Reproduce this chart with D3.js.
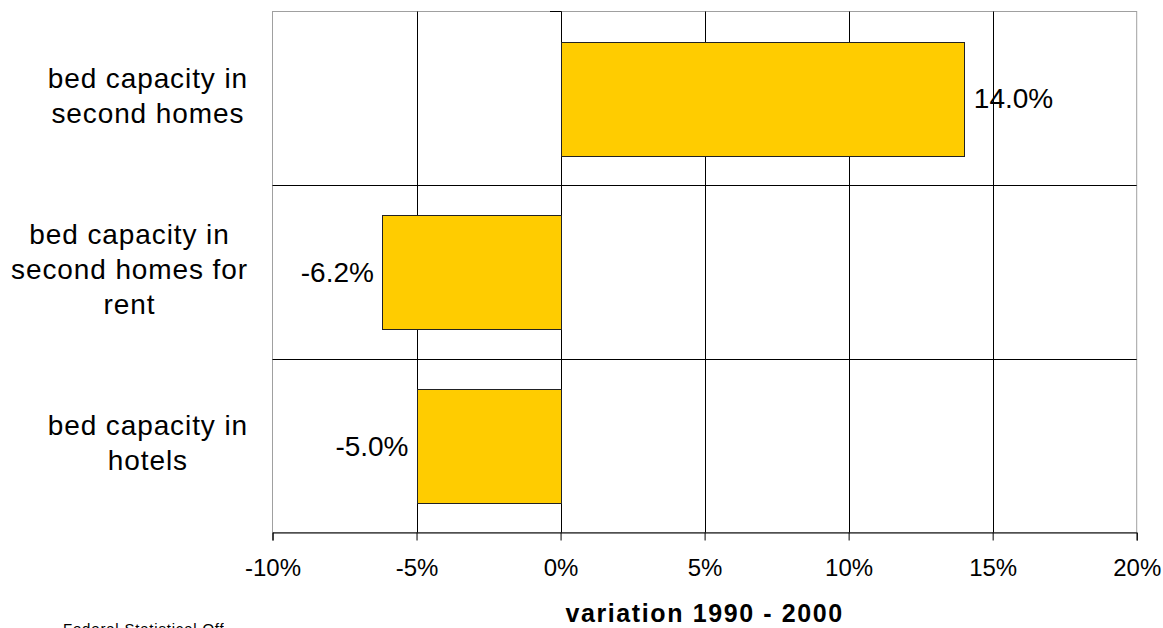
<!DOCTYPE html>
<html>
<head>
<meta charset="utf-8">
<script src="https://cdn.jsdelivr.net/npm/d3@7"></script>
<style>
  html, body { margin: 0; padding: 0; background: #fff; }
  svg { display: block; }
  text { font-family: "Liberation Sans", Arial, sans-serif; fill: #000; }
</style>
</head>
<body>
<svg id="chart" width="1163" height="628"></svg>
<script>
// ---- data ----
const categories = [
  ["bed capacity in", "second homes"],
  ["bed capacity in", "second homes for", "rent"],
  ["bed capacity in", "hotels"]
];
const values = [14.0, -6.2, -5.0];
const valueLabels = ["14.0%", "-6.2%", "-5.0%"];
const tickValues = [-10, -5, 0, 5, 10, 15, 20];
const tickLabels = ["-10%", "-5%", "0%", "5%", "10%", "15%", "20%"];
const axisTitle = "variation 1990 - 2000";
const sourceText = "Federal Statistical Office";

(function () {
// ---- layout ----
const svg = d3.select("#chart");
const pL = 272.5, pR = 1136.7, pT = 11.5, pB = 532.5;

const x = d3.scaleLinear().domain([-10, 20]).range([pL, pR]);
const idx = categories.map((d, i) => i);
const y = d3.scaleBand().domain(idx).range([pT, pB]).paddingInner(0.346).paddingOuter(0.173);
const step = y.step();
const rowTop = i => pT + i * step;
const rowCenter = i => pT + (i + 0.5) * step;

// plot border (gray)
svg.append("rect")
  .attr("x", pL).attr("y", pT)
  .attr("width", pR - pL).attr("height", pB - pT)
  .attr("fill", "none").attr("stroke", "#a0a0a0").attr("stroke-width", 1);

// vertical gridlines (black) at interior ticks
svg.append("g").selectAll("line")
  .data(tickValues.filter(v => v > -10 && v < 20))
  .join("line")
  .attr("x1", d => Math.round(x(d)) + 0.5).attr("x2", d => Math.round(x(d)) + 0.5)
  .attr("y1", pT).attr("y2", pB)
  .attr("stroke", "#000").attr("stroke-width", 1);

// horizontal separators between categories
svg.append("g").selectAll("line")
  .data(idx.slice(1))
  .join("line")
  .attr("x1", pL).attr("x2", pR)
  .attr("y1", d => Math.round(rowTop(d)) + 0.5).attr("y2", d => Math.round(rowTop(d)) + 0.5)
  .attr("stroke", "#000").attr("stroke-width", 1);

// small category-axis tick at the top (axis crosses at 0)
svg.append("line")
  .attr("x1", Math.round(x(0)) - 11).attr("x2", Math.round(x(0)) + 0.5)
  .attr("y1", pT).attr("y2", pT)
  .attr("stroke", "#000").attr("stroke-width", 1);

// bars
svg.append("g").selectAll("rect")
  .data(values)
  .join("rect")
  .attr("x", d => Math.round(x(Math.min(0, d))) + 0.5)
  .attr("y", (d, i) => Math.round(y(i)) + 0.5)
  .attr("width", d => Math.round(Math.abs(x(d) - x(0))))
  .attr("height", Math.round(y.bandwidth()))
  .attr("fill", "#FFCC00")
  .attr("stroke", "#222").attr("stroke-width", 1);

// value labels
svg.append("g").selectAll("text")
  .data(values)
  .join("text")
  .attr("x", d => d >= 0 ? x(d) + 10 : x(d) - 8)
  .attr("y", (d, i) => rowCenter(i) + 10)
  .attr("text-anchor", d => d >= 0 ? "start" : "end")
  .attr("font-size", 28)
  .text((d, i) => valueLabels[i]);

// x axis
const xAxis = d3.axisBottom(x)
  .tickValues(tickValues)
  .tickSize(8)
  .tickPadding(12)
  .tickFormat((d, i) => tickLabels[i]);
const gx = svg.append("g").attr("transform", `translate(0,${pB})`).call(xAxis);
gx.select(".domain").attr("stroke", "#000");
gx.selectAll(".tick line").attr("stroke", "#000");
gx.selectAll(".tick text")
  .attr("font-size", 24)
  .attr("font-family", '"Liberation Sans", Arial, sans-serif')
  .attr("fill", "#000")
  .attr("dy", null)
  .attr("y", 43);

// category labels (centered block, right-aligned to the axis)
const labelRight = 248;
const lineGap = 35;
categories.forEach((lines, i) => {
  const g = svg.append("g");
  const texts = g.selectAll("text")
    .data(lines)
    .join("text")
    .attr("font-size", 28)
    .attr("letter-spacing", 0.9)
    .attr("text-anchor", "middle")
    .attr("y", (d, j) => rowCenter(i) + 7 + (j - (lines.length - 1) / 2) * lineGap)
    .text(d => d);
  let maxW = 0;
  texts.each(function () { maxW = Math.max(maxW, this.getComputedTextLength()); });
  texts.attr("x", labelRight - maxW / 2);
});

// axis title
svg.append("text")
  .attr("x", (pL + pR) / 2)
  .attr("y", 622)
  .attr("text-anchor", "middle")
  .attr("font-size", 25)
  .attr("font-weight", "bold")
  .attr("letter-spacing", 1.6)
  .text(axisTitle);

// source (cut off at the bottom, as in the reference)
svg.append("clipPath").attr("id", "srcclip")
  .append("rect").attr("x", 0).attr("y", 0).attr("width", 224).attr("height", 628);
svg.append("text")
  .attr("x", 63)
  .attr("y", 634)
  .attr("font-size", 15)
  .attr("letter-spacing", 0.8)
  .attr("fill", "#000")
  .attr("clip-path", "url(#srcclip)")
  .text(sourceText);
})();
</script>
</body>
</html>
